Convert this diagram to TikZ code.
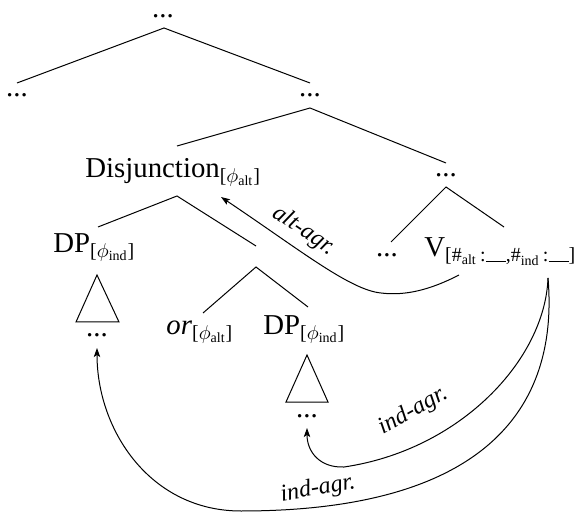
\documentclass[tikz,border=0pt]{standalone}
\usepackage{amsmath}
\usepackage{fontspec}
\setmainfont{Liberation Serif}
\usetikzlibrary{arrows.meta}
\newcommand{\blankslot}{\rule{10pt}{0.4pt}}
\begin{document}
\begin{tikzpicture}[x=0.5pt,y=-0.5pt,
  lbl/.style={inner sep=0pt,anchor=base,font=\fontsize{14.4}{17}\selectfont},
  edge/.style={line width=0.5pt},
  agr/.style={line width=0.5pt,-{Stealth[length=4.5pt,width=3.2pt,inset=1pt]}},
  agrlbl/.style={inner sep=0pt,font=\fontsize{12}{14}\selectfont\itshape}]
\useasboundingbox (0,0) rectangle (577,512);
% nodes
\node[lbl] (top) at (163,18) {...};
\node[lbl] (l1) at (17,97) {...};
\node[lbl] (r1) at (310,97) {...};
\node[lbl,anchor=base west] (disj) at (85,178) {Disjunction$_{\text{[}\phi_{\text{alt}}\text{]}}$};
\node[lbl] (r2) at (446,177) {...};
\node[lbl,anchor=base west] (dp1) at (53,253) {DP$_{\text{[}\phi_{\text{ind}}\text{]}}$};
\node[lbl] (d1) at (97,337) {...};
\node[lbl,anchor=base west] (or) at (166,335) {\textit{or}$_{\text{[}\phi_{\text{alt}}\text{]}}$};
\node[lbl,anchor=base west] (dp2) at (263,335) {DP$_{\text{[}\phi_{\text{ind}}\text{]}}$};
\node[lbl] (d2) at (307,417) {...};
\node[lbl] (r3) at (387,257) {...};
\node[lbl,anchor=base west] (v) at (424,257) {V$_{\text{[\#}_{\text{alt}}\text{\,:\blankslot,\#}_{\text{ind}}\text{\,:\blankslot]}}$};
% tree edges
\coordinate (a0) at (164,28); \coordinate (a1) at (17,83); \coordinate (a2) at (310,83);
\draw[edge] (a1) -- (a0) -- (a2);
\coordinate (b0) at (310,108); \coordinate (b1) at (177,146); \coordinate (b2) at (446,163);
\draw[edge] (b1) -- (b0) -- (b2);
\coordinate (c0) at (177,196); \coordinate (c1) at (98,227); \coordinate (c2) at (256,246);
\draw[edge] (c1) -- (c0) -- (c2);
\coordinate (e0) at (446,187); \coordinate (e1) at (391,242); \coordinate (e2) at (504,227);
\draw[edge] (e1) -- (e0) -- (e2);
\coordinate (f0) at (256,267); \coordinate (f1) at (203,313); \coordinate (f2) at (308,307);
\draw[edge] (f1) -- (f0) -- (f2);
% triangles
\draw[edge] (97,275) -- (76,322) -- (119,322) -- cycle;
\draw[edge] (307,355) -- (286,402) -- (328,402) -- cycle;
% agreement arrows
\coordinate (vs1) at (459,275);
\coordinate (vs2) at (548,278);
\coordinate (alttip) at (221,197);
\coordinate (tip2) at (307,428);
\coordinate (tip1) at (97,348);
\draw[agr] (vs1) .. controls (430,290) and (405,296) .. (381,293) .. controls (350,290) and (300,250) .. (alttip);
\draw[agr] (vs2) .. controls (545,360) and (460,450) .. (344,467) .. controls (320,468) and (307,452) .. (tip2);
\draw[agr] (vs2) .. controls (560,420) and (470,511) .. (241,511) .. controls (150,511) and (97,430) .. (tip1);
\node[agrlbl,rotate=-34] (lalt) at (304,231) {alt-agr.};
\node[agrlbl,rotate=29] (lind1) at (413,411) {ind-agr.};
\node[agrlbl,rotate=10] (lind2) at (318,489) {ind-agr.};
\end{tikzpicture}
\end{document}
